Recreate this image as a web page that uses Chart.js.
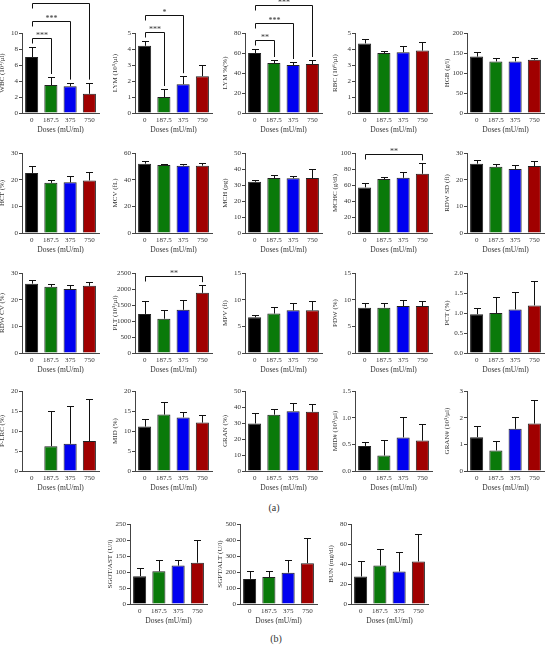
<!DOCTYPE html>
<html>
<head>
<meta charset="utf-8">
<script src="https://cdn.jsdelivr.net/npm/chart.js@4.4.1/dist/chart.umd.min.js"></script>
<style>
body { margin: 0; background: #fff; width: 550px; height: 645px; position: relative; overflow: hidden; font-family: "Liberation Serif", serif; }
canvas.panel { position: absolute; }
.tag { position: absolute; font-size: 10px; color: #333; transform: translate(-50%, -50%); }
</style>
</head>
<body>
<div class="tag" style="left:274px; top:507px">(a)</div>
<div class="tag" style="left:276px; top:638px">(b)</div>
<script>
// dose groups
const doses = ['0', '187.5', '375', '750'];

// means and SD
const wbc = [7.0, 3.5, 3.35, 2.4];
const wbcSd = [1.2, 1.0, 0.45, 1.4];
const lym = [4.2, 1.0, 1.8, 2.3];
const lymSd = [0.3, 0.5, 0.5, 0.7];
const lymPct = [60, 50, 48, 49];
const lymPctSd = [4, 3, 3, 4];
const rbc = [4.35, 3.75, 3.8, 3.9];
const rbcSd = [0.3, 0.15, 0.4, 0.55];
const hgb = [141, 129, 129, 133];
const hgbSd = [12, 9, 11, 5];
const hct = [22.5, 18.8, 19, 19.7];
const hctSd = [2.5, 1.0, 2.5, 3.3];
const mcv = [52, 51, 50.5, 50.5];
const mcvSd = [1.8, 0.6, 1.5, 2.0];
const mch = [32, 34.3, 34.2, 34.3];
const mchSd = [1.0, 1.7, 1.3, 5.9];
const mchc = [57, 67.5, 69, 74];
const mchcSd = [6, 3, 7, 13];
const rdwSd = [26, 24.8, 24, 25.1];
const rdwSdSd = [1.3, 1.1, 1.5, 1.8];
const rdwCv = [26, 24.8, 24, 25.2];
const rdwCvSd = [1.2, 0.9, 1.5, 1.6];
const plt = [1220, 1070, 1350, 1880];
const pltSd = [420, 260, 300, 240];
const mpv = [6.7, 7.4, 8.0, 8.0];
const mpvSd = [0.5, 1.3, 1.3, 1.7];
const pdw = [8.5, 8.5, 8.8, 8.8];
const pdwSd = [0.9, 0.8, 1.1, 0.9];
const pct = [0.97, 1.0, 1.09, 1.19];
const pctSd = [0.15, 0.39, 0.43, 0.61];
const plrc = [0, 6.2, 6.8, 7.5];
const plrcSd = [0, 8.9, 9.5, 10.6];
const mid = [11.1, 14.1, 13.4, 12.1];
const midSd = [2.0, 3.1, 1.3, 1.8];
const gran = [29.7, 35.2, 37.4, 37];
const granSd = [6.8, 3.6, 5.4, 4.7];
const midAbs = [0.47, 0.29, 0.63, 0.57];
const midAbsSd = [0.08, 0.29, 0.38, 0.32];
const granAbs = [1.27, 0.77, 1.58, 1.78];
const granAbsSd = [0.43, 0.37, 0.43, 0.88];
const sgot = [87, 102, 120, 129];
const sgotSd = [25, 34, 16, 70];
const sgpt = [157, 168, 196, 255];
const sgptSd = [47, 38, 79, 160];
const bun = [27.5, 38.5, 32.5, 42.5];
const bunSd = [16, 16.5, 19.5, 27.5];

// significance: [from group, to group, stars]
const wbcSig = [[0, 1, '***'], [0, 2, '***'], [0, 3, '****']];
const lymSig = [[0, 1, '***'], [0, 2, '*']];
const lymPctSig = [[0, 1, '**'], [0, 2, '***'], [0, 3, '***']];
const mchcSig = [[0, 3, '**']];
const pltSig = [[0, 3, '**']];

const barColors = ['#000000', '#0a7a0a', '#0000f0', '#a00000'];
const colX = [22, 135, 245, 355, 467];
const rowTop = [33, 153, 273, 391, 524];
const rowBX = [130, 240, 351];

const panels = [
    { title: 'WBC (10³/µl)', mean: wbc, sd: wbcSd, max: 10, step: 2, sig: wbcSig, r: 0, c: 0 },
    { title: 'LYM (10³/µl)', mean: lym, sd: lymSd, max: 5, step: 1, sig: lymSig, r: 0, c: 1 },
    { title: 'LYM %(%)', mean: lymPct, sd: lymPctSd, max: 80, step: 20, sig: lymPctSig, r: 0, c: 2 },
    { title: 'RBC (10⁶/µl)', mean: rbc, sd: rbcSd, max: 5, step: 1, r: 0, c: 3 },
    { title: 'HGB (g/l)', mean: hgb, sd: hgbSd, max: 200, step: 50, r: 0, c: 4 },
    { title: 'HCT (%)', mean: hct, sd: hctSd, max: 30, step: 10, r: 1, c: 0 },
    { title: 'MCV (fL)', mean: mcv, sd: mcvSd, max: 60, step: 20, r: 1, c: 1 },
    { title: 'MCH (pg)', mean: mch, sd: mchSd, max: 50, step: 10, r: 1, c: 2 },
    { title: 'MCHC (g/dl)', mean: mchc, sd: mchcSd, max: 100, step: 20, sig: mchcSig, r: 1, c: 3 },
    { title: 'RDW SD (fl)', mean: rdwSd, sd: rdwSdSd, max: 30, step: 10, r: 1, c: 4 },
    { title: 'RDW CV (%)', mean: rdwCv, sd: rdwCvSd, max: 30, step: 10, r: 2, c: 0 },
    { title: 'PLT (10³/µl)', mean: plt, sd: pltSd, max: 2500, step: 500, sig: pltSig, r: 2, c: 1 },
    { title: 'MPV (fl)', mean: mpv, sd: mpvSd, max: 15, step: 5, r: 2, c: 2 },
    { title: 'PDW (%)', mean: pdw, sd: pdwSd, max: 15, step: 5, r: 2, c: 3 },
    { title: 'PCT (%)', mean: pct, sd: pctSd, max: 2, step: 0.5, r: 2, c: 4 },
    { title: 'P-LRC (%)', mean: plrc, sd: plrcSd, max: 20, step: 5, r: 3, c: 0 },
    { title: 'MID (%)', mean: mid, sd: midSd, max: 20, step: 5, r: 3, c: 1 },
    { title: 'GRAN (%)', mean: gran, sd: granSd, max: 50, step: 10, r: 3, c: 2 },
    { title: 'MID# (10³/µl)', mean: midAbs, sd: midAbsSd, max: 1.5, step: 0.5, r: 3, c: 3 },
    { title: 'GRAN# (10³/µl)', mean: granAbs, sd: granAbsSd, max: 3, step: 1, r: 3, c: 4 },
    { title: 'SGOT/AST (U/l)', mean: sgot, sd: sgotSd, max: 250, step: 50, r: 4, c: 0 },
    { title: 'SGPT/ALT (U/l)', mean: sgpt, sd: sgptSd, max: 500, step: 100, r: 4, c: 1 },
    { title: 'BUN (mg/dl)', mean: bun, sd: bunSd, max: 80, step: 20, r: 4, c: 2 }
];

const PAD_TOP = 33, AXIS_W = 24, PLOT_W = 77, PAD_R = 4, X_H = 22, PLOT_H = 80;
const axisCol = '#444';
const tickFont = { family: 'Liberation Serif', size: 7 };

// error bars + significance brackets
function marks(p) {
    return {
        id: 'marks',
        afterDraw(chart) {
            const ctx = chart.ctx;
            const y = chart.scales.y;
            const bars = chart.getDatasetMeta(0).data;
            const tops = p.mean.map((m, i) => y.getPixelForValue(m + p.sd[i]));
            ctx.save();
            ctx.strokeStyle = '#111';
            ctx.lineWidth = 1;
            bars.forEach((bar, i) => {
                if (!p.sd[i]) return;
                const x = Math.round(bar.x) + 0.5;
                const t = Math.round(tops[i]) + 0.5;
                ctx.beginPath();
                ctx.moveTo(x, bar.y);
                ctx.lineTo(x, t);
                ctx.moveTo(x - 3.5, t);
                ctx.lineTo(x + 3.5, t);
                ctx.stroke();
            });
            if (p.sig) {
                const [a0, b0] = p.sig[0];
                const base = Math.min(...tops.slice(a0, b0 + 1)) - 9;
                ctx.fillStyle = '#333';
                ctx.font = '8px "Liberation Serif"';
                ctx.textAlign = 'center';
                ctx.textBaseline = 'bottom';
                p.sig.forEach(([a, b, label], k) => {
                    const yb = Math.round(base - 17.5 * k) + 0.5;
                    const x1 = Math.round(bars[a].x) + 0.5;
                    const x2 = Math.round(bars[b].x) + 0.5;
                    ctx.beginPath();
                    ctx.moveTo(x1, yb + 5);
                    ctx.lineTo(x1, yb);
                    ctx.lineTo(x2, yb);
                    ctx.lineTo(x2, tops[b] - 3);
                    ctx.stroke();
                    ctx.fillText(label, (x1 + x2) / 2, yb + 1);
                });
            }
            ctx.restore();
        }
    };
}

panels.forEach(p => {
    const cv = document.createElement('canvas');
    cv.className = 'panel';
    cv.width = AXIS_W + PLOT_W + PAD_R;
    cv.height = PAD_TOP + PLOT_H + X_H;
    const ax = p.r < 4 ? colX[p.c] : rowBX[p.c];
    cv.style.left = (ax - AXIS_W) + 'px';
    cv.style.top = (rowTop[p.r] - PAD_TOP) + 'px';
    document.body.appendChild(cv);

    new Chart(cv, {
        type: 'bar',
        data: {
            labels: doses,
            datasets: [{
                data: p.mean,
                backgroundColor: barColors,
                borderColor: '#222',
                borderWidth: 1,
                barPercentage: 0.68,
                categoryPercentage: 1
            }]
        },
        options: {
            responsive: false,
            animation: false,
            devicePixelRatio: 1,
            layout: { padding: { top: PAD_TOP, right: PAD_R, left: 0, bottom: 0 } },
            plugins: { legend: { display: false }, tooltip: { enabled: false } },
            scales: {
                x: {
                    grid: { display: false, drawTicks: false, tickLength: 0 },
                    border: { color: axisCol },
                    ticks: { font: tickFont, color: '#333', padding: 3, maxRotation: 0, autoSkip: false },
                    title: { display: true, text: 'Doses (mU/ml)', font: { family: 'Liberation Serif', size: 7.5 }, color: '#333', padding: 0 },
                    afterFit: s => { s.height = X_H; }
                },
                y: {
                    min: 0,
                    max: p.max,
                    grid: { drawOnChartArea: false, tickLength: 3, color: axisCol },
                    border: { color: axisCol },
                    ticks: {
                        stepSize: p.step,
                        font: tickFont,
                        color: '#333',
                        padding: 1,
                        callback: v => p.step < 1 ? v.toFixed(1) : String(v)
                    },
                    title: { display: true, text: p.title, font: tickFont, color: '#333', padding: 0 },
                    afterFit: s => { s.width = AXIS_W; }
                }
            }
        },
        plugins: [marks(p)]
    });
});
</script>
</body>
</html>
